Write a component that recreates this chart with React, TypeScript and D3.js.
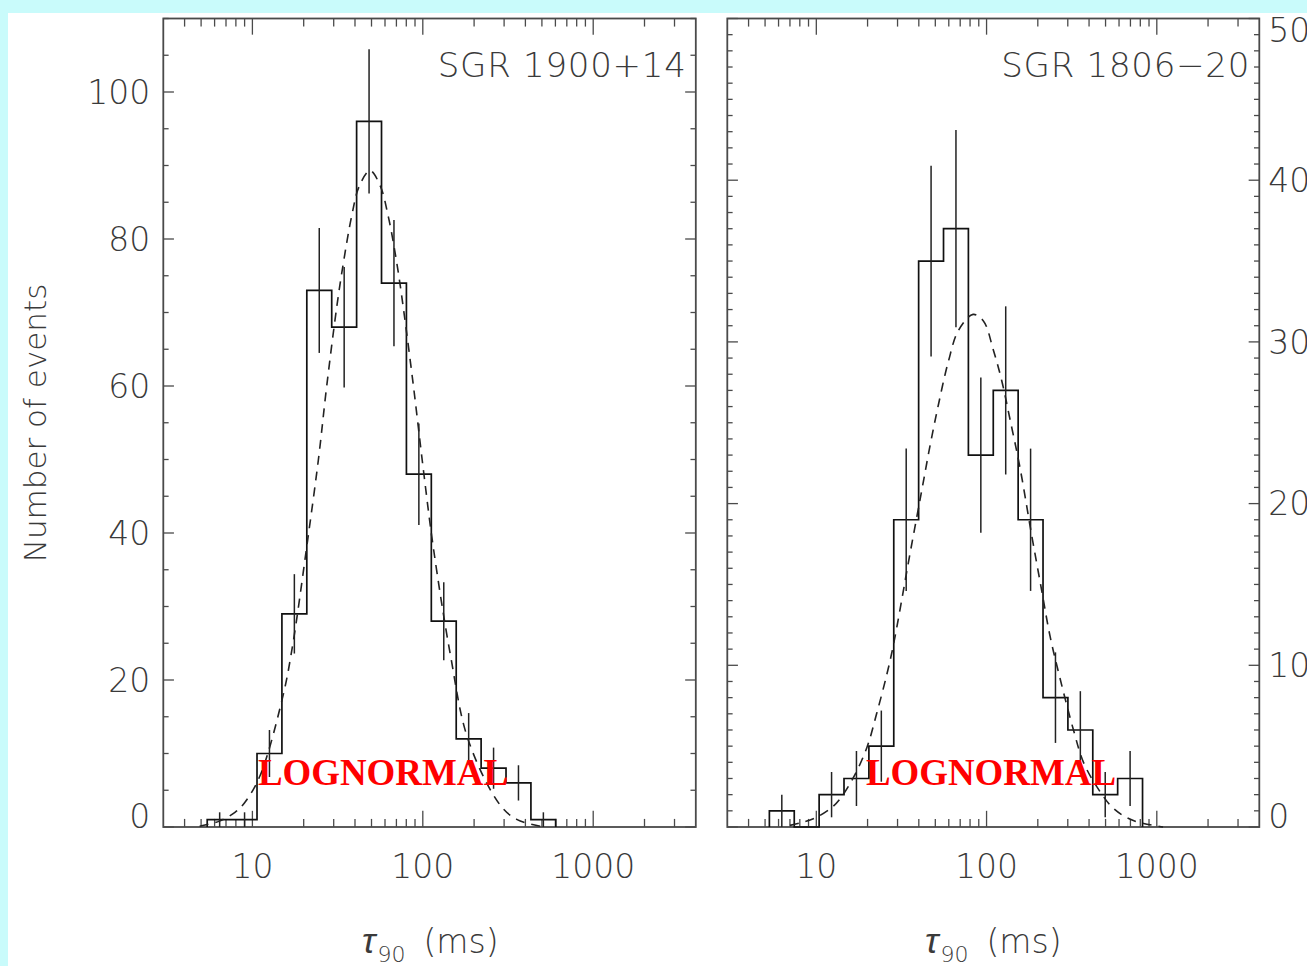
import React, { useRef, useEffect } from 'react'
import * as d3 from 'd3'

// ---- data ----
// bins grow by a constant factor, first edge given in ms
const binFactor = 1.4

const leftTitle = 'SGR 1900+14'
const leftBinStart = 5.43
const leftCounts = [1, 1, 10, 29, 73, 68, 96, 74, 48, 28, 12, 8, 6, 1]
const leftErrors = [1, 1, 3.2, 5.4, 8.5, 8.2, 9.8, 8.6, 6.9, 5.3, 3.5, 2.8, 2.4, 1]
// dashed lognormal fit
const leftFitMs = [4.9, 6.4, 7.9, 9.0, 11.1, 15.1, 17.3, 20.8, 24.4, 27.3, 31.2, 33.9, 38.3, 42.4, 49.0, 56.1, 62.8, 70.3, 76.9, 88.1, 100.9, 115, 145, 185, 284, 358, 489]
const leftFitN = [0.1, 0.8, 2.0, 3.3, 7.0, 17.8, 25, 38, 50, 60, 70.6, 76.2, 83.2, 87.2, 89.3, 87.3, 83, 76.8, 70.6, 60, 48.5, 38.2, 23.5, 11.8, 3.0, 1.0, 0.1]

const rightTitle = 'SGR 1806\u221220'
const rightBinStart = 5.3
const rightCounts = [1, 0, 2, 3, 5, 19, 35, 37, 23, 27, 19, 8, 6, 2, 3]
const rightErrors = [1, 0, 1.4, 1.7, 2.2, 4.4, 5.9, 6.1, 4.8, 5.2, 4.4, 2.8, 2.4, 1.4, 1.7]
const rightFitMs = [7.0, 8.0, 9.8, 12.3, 13.8, 16.4, 19.8, 22.6, 25.9, 28.3, 35.5, 41.6, 46.6, 52.1, 59.7, 68.3, 83.3, 95.8, 109.6, 122.8, 137.4, 157.3, 184.4, 211, 236, 270, 324, 371, 444, 556, 728, 1089]
const rightFitN = [0.1, 0.25, 0.55, 1.2, 1.75, 3.0, 4.9, 7.0, 9.4, 11.2, 16.9, 20.8, 23.6, 26.1, 28.8, 30.7, 31.7, 31.3, 29.5, 27.6, 25.2, 22.2, 18.0, 14.6, 11.8, 9.2, 6.0, 4.0, 2.5, 1.15, 0.4, 0]

const xDomain = [3, 4000]
const xTickValues = [10, 100, 1000]
const leftYTicks = [0, 20, 40, 60, 80, 100]
const rightYTicks = [0, 10, 20, 30, 40, 50]

const layout = { width: 1307, height: 966, top: 18.5, bottom: 827 }

export default function App() {
  const ref = useRef(null)

  useEffect(() => {
    const svg = d3.select(ref.current)
    svg.selectAll('*').remove()

    svg.append('rect').attr('width', layout.width).attr('height', layout.height).attr('fill', '#c9fbfb')
    svg.append('rect').attr('x', 8).attr('y', 13).attr('width', layout.width - 8).attr('height', layout.height - 13).attr('fill', '#ffffff')

    const font = 'DejaVu Sans'
    const grey = '#3a3a3a'

    function drawPanel(opts) {
      const { x0, x1, yMax, minorStep, majorStep, counts, errors, binStart, fitMs, fitN, title, labelSide, yTicks, tagX, axisTitleX } = opts
      const x = d3.scaleLog().domain(xDomain).range([x0, x1])
      const y = d3.scaleLinear().domain([0, yMax]).range([layout.bottom, layout.top])
      const g = svg.append('g')
      const h = layout.bottom - layout.top
      const w = x1 - x0

      // frame
      g.append('rect')
        .attr('x', x0).attr('y', layout.top).attr('width', w).attr('height', h)
        .attr('fill', 'none').attr('stroke', '#4a4a4a').attr('stroke-width', 1.8)

      // x ticks (top and bottom, inward)
      const xt = []
      for (const d of [1, 10, 100, 1000]) {
        for (let k = 1; k <= 9; k++) {
          const v = d * k
          if (v > xDomain[0] && v < xDomain[1]) xt.push({ v, major: k === 1 })
        }
      }
      const xMaj = 0.02 * h, xMin = 0.01 * h
      g.selectAll('.xtb').data(xt).join('line')
        .attr('x1', d => x(d.v)).attr('x2', d => x(d.v))
        .attr('y1', layout.bottom).attr('y2', d => layout.bottom - (d.major ? xMaj : xMin))
        .attr('stroke', '#4a4a4a').attr('stroke-width', 1.3)
      g.selectAll('.xtt').data(xt).join('line')
        .attr('x1', d => x(d.v)).attr('x2', d => x(d.v))
        .attr('y1', layout.top).attr('y2', d => layout.top + (d.major ? xMaj : xMin))
        .attr('stroke', '#4a4a4a').attr('stroke-width', 1.3)

      // y ticks (left and right, inward)
      const yt = d3.range(0, yMax + 1e-6, minorStep).map(v => ({ v, major: Math.abs(v / majorStep - Math.round(v / majorStep)) < 1e-6 }))
      const yMaj = 0.02 * w, yMin = 0.01 * w
      g.selectAll('.ytl').data(yt).join('line')
        .attr('x1', x0).attr('x2', d => x0 + (d.major ? yMaj : yMin))
        .attr('y1', d => y(d.v)).attr('y2', d => y(d.v))
        .attr('stroke', '#4a4a4a').attr('stroke-width', 1.3)
      g.selectAll('.ytr').data(yt).join('line')
        .attr('x1', x1).attr('x2', d => x1 - (d.major ? yMaj : yMin))
        .attr('y1', d => y(d.v)).attr('y2', d => y(d.v))
        .attr('stroke', '#4a4a4a').attr('stroke-width', 1.3)

      // x tick labels
      g.selectAll('.xl').data(xTickValues).join('text')
        .attr('x', d => x(d)).attr('y', 878)
        .attr('text-anchor', 'middle')
        .attr('font-family', font).attr('font-size', 33).attr('font-weight', 300)
        .attr('fill', grey)
        .text(d => d)

      // y tick labels
      const ly = d => Math.min(Math.max(y(d), layout.top + 12), layout.bottom - 11)
      if (labelSide === 'left') {
        g.selectAll('.yl').data(yTicks).join('text')
          .attr('x', x0 - 13).attr('y', d => ly(d)).attr('dy', '0.36em')
          .attr('text-anchor', 'end')
          .attr('font-family', font).attr('font-size', 33).attr('font-weight', 300)
          .attr('fill', grey).text(d => d)
      } else {
        g.selectAll('.yl').data(yTicks).join('text')
          .attr('x', x1 + 9).attr('y', d => ly(d)).attr('dy', '0.36em')
          .attr('text-anchor', 'start')
          .attr('font-family', font).attr('font-size', 33).attr('font-weight', 300)
          .attr('fill', grey).text(d => d)
      }

      // histogram
      const edges = d3.range(counts.length + 1).map(i => binStart * Math.pow(binFactor, i))
      const pts = [[edges[0], 0]]
      counts.forEach((c, i) => pts.push([edges[i], c]))
      pts.push([edges[counts.length], 0])
      const step = d3.line().x(d => x(d[0])).y(d => y(d[1])).curve(d3.curveStepAfter)
      g.append('path').attr('d', step(pts))
        .attr('fill', 'none').attr('stroke', '#111').attr('stroke-width', 1.7)

      // error bars at bin centres
      const eb = counts.map((c, i) => ({ c, e: errors[i], xc: Math.sqrt(edges[i] * edges[i + 1]) })).filter(d => d.e > 0)
      g.selectAll('.eb').data(eb).join('line')
        .attr('x1', d => x(d.xc)).attr('x2', d => x(d.xc))
        .attr('y1', d => y(Math.max(0, d.c - d.e))).attr('y2', d => y(d.c + d.e))
        .attr('stroke', '#222').attr('stroke-width', 1.5)

      // lognormal fit
      const fit = fitMs.map((m, i) => [m, fitN[i]])
      const fl = d3.line().x(d => x(d[0])).y(d => y(d[1])).curve(d3.curveCatmullRom.alpha(0.5))
      g.append('path').attr('d', fl(fit))
        .attr('fill', 'none').attr('stroke', '#222').attr('stroke-width', 1.6)
        .attr('stroke-dasharray', '9,7')

      // panel title
      g.append('text')
        .attr('x', x1 - 10).attr('y', 77)
        .attr('text-anchor', 'end')
        .attr('font-family', font).attr('font-size', 34).attr('font-weight', 300)
        .attr('fill', grey)
        .attr('textLength', 248).attr('lengthAdjust', 'spacing')
        .text(title)

      // LOGNORMAL label
      g.append('text')
        .attr('x', tagX).attr('y', 785)
        .attr('font-family', 'Liberation Serif').attr('font-weight', 'bold').attr('font-size', 37)
        .attr('fill', '#ff0000')
        .attr('textLength', 250).attr('lengthAdjust', 'spacingAndGlyphs')
        .text('LOGNORMAL')

      // x axis title
      const t = g.append('text')
        .attr('x', axisTitleX).attr('y', 953)
        .attr('font-family', font).attr('font-size', 33).attr('font-weight', 300)
        .attr('fill', grey)
      t.append('tspan').attr('font-family', 'Liberation Sans').attr('font-weight', 400)
        .attr('font-style', 'italic').attr('font-size', 36).text('\u03c4')
      t.append('tspan').attr('font-size', 22).attr('dy', 9).attr('dx', 2).text('90')
      t.append('tspan').attr('dy', -9).attr('dx', 18).text('(ms)')
    }

    drawPanel({
      x0: 163.3, x1: 695.8, yMax: 110, minorStep: 5, majorStep: 20,
      counts: leftCounts, errors: leftErrors, binStart: leftBinStart,
      fitMs: leftFitMs, fitN: leftFitN, title: leftTitle, labelSide: 'left', yTicks: leftYTicks,
      tagX: 258, axisTitleX: 362
    })
    drawPanel({
      x0: 727.3, x1: 1259.3, yMax: 50, minorStep: 1, majorStep: 10,
      counts: rightCounts, errors: rightErrors, binStart: rightBinStart,
      fitMs: rightFitMs, fitN: rightFitN, title: rightTitle, labelSide: 'right', yTicks: rightYTicks,
      tagX: 866, axisTitleX: 925
    })

    svg.append('text')
      .attr('transform', 'translate(46, 423) rotate(-90)')
      .attr('text-anchor', 'middle')
      .attr('font-family', font).attr('font-size', 31).attr('font-weight', 300)
      .attr('fill', grey)
      .text('Number of events')
  }, [])

  return (
    <svg ref={ref} width={layout.width} height={layout.height}
      style={{ position: 'absolute', left: 0, top: 0, display: 'block' }} />
  )
}
